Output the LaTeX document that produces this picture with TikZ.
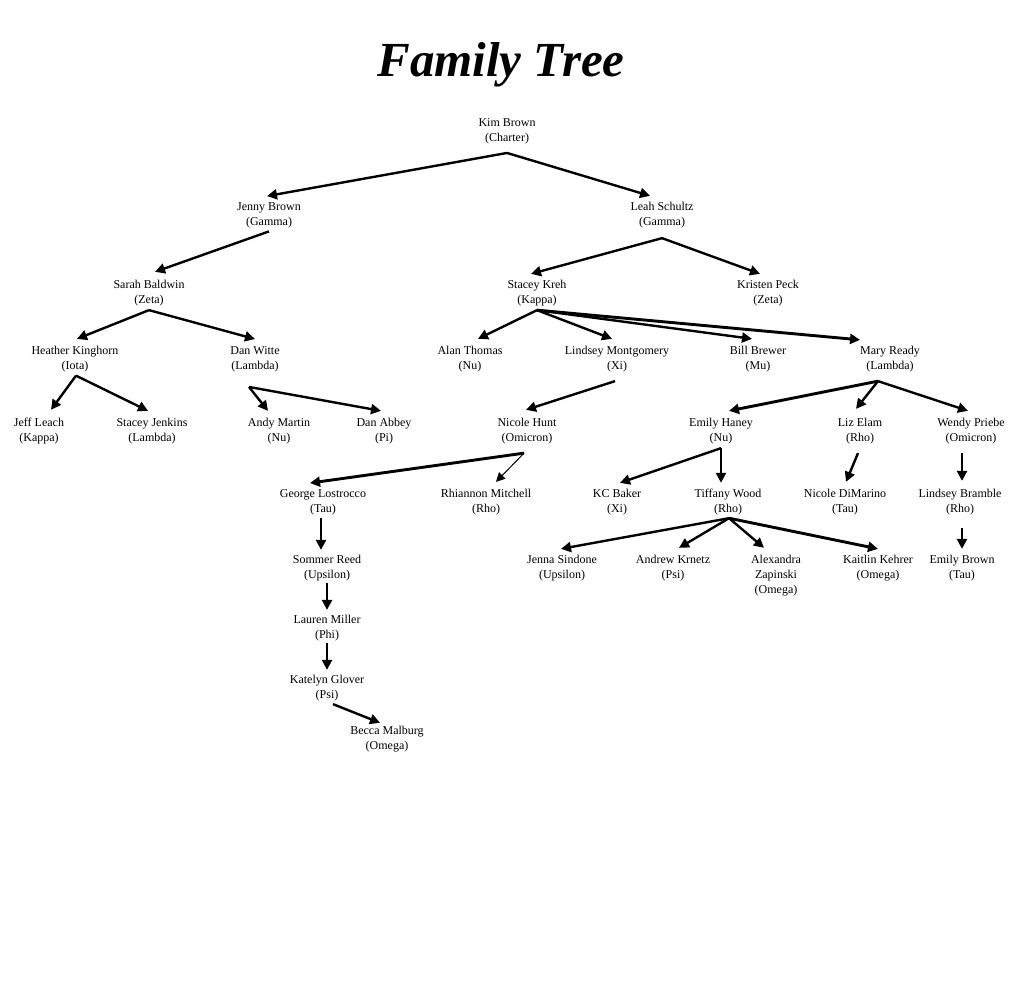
\documentclass[tikz,border=0pt]{standalone}
\usepackage{fontspec}
\setmainfont{Liberation Serif}
\usetikzlibrary{arrows.meta}
\begin{document}
\begin{tikzpicture}[x=1pt,y=-1pt,
  person/.style={align=center, inner xsep=0pt, inner ysep=3pt, font=\fontsize{12}{15}\selectfont},
  arr/.style={-{Triangle[length=10pt,width=10pt]}, line width=2.4pt},
  thickarr/.style={arr, line width=2.9pt},
  thinarr/.style={-{Triangle[length=9pt,width=9pt]}, line width=1pt}]
\useasboundingbox[fill=white] (0,0) rectangle (1025,995);
\node[anchor=base, font=\fontsize{49}{55}\selectfont\bfseries\itshape] (title) at (501,77) {Family Tree};
% generation 0
\node[person] (kim) at (507,131.5) {Kim Brown\\(Charter)};
% generation 1
\node[person] (jenny) at (269,215.5) {Jenny Brown\\(Gamma)};
\node[person] (leah) at (662,215.5) {Leah Schultz\\(Gamma)};
% generation 2
\node[person] (sarah) at (149,293.5) {Sarah Baldwin\\(Zeta)};
\node[person] (stacey) at (537,293.5) {Stacey Kreh\\(Kappa)};
\node[person] (kristen) at (768,293.5) {Kristen Peck\\(Zeta)};
% generation 3
\node[person] (heather) at (75,359.5) {Heather Kinghorn\\(Iota)};
\node[person] (danw) at (255,359.5) {Dan Witte\\(Lambda)};
\node[person] (alan) at (470,359.5) {Alan Thomas\\(Nu)};
\node[person] (lindseym) at (617,359.5) {Lindsey Montgomery\\(Xi)};
\node[person] (bill) at (758,359.5) {Bill Brewer\\(Mu)};
\node[person] (mary) at (890,359.5) {Mary Ready\\(Lambda)};
% generation 4
\node[person] (jeff) at (39,431.5) {Jeff Leach\\(Kappa)};
\node[person] (staceyj) at (152,431.5) {Stacey Jenkins\\(Lambda)};
\node[person] (andy) at (279,431.5) {Andy Martin\\(Nu)};
\node[person] (dana) at (384,431.5) {Dan Abbey\\(Pi)};
\node[person] (nicoleh) at (527,431.5) {Nicole Hunt\\(Omicron)};
\node[person] (emilyh) at (721,431.5) {Emily Haney\\(Nu)};
\node[person] (liz) at (860,431.5) {Liz Elam\\(Rho)};
\node[person] (wendy) at (971,431.5) {Wendy Priebe\\(Omicron)};
% generation 5
\node[person] (george) at (323,502.5) {George Lostrocco\\(Tau)};
\node[person] (rhiannon) at (486,502.5) {Rhiannon Mitchell\\(Rho)};
\node[person] (kc) at (617,502.5) {KC Baker\\(Xi)};
\node[person] (tiffany) at (728,502.5) {Tiffany Wood\\(Rho)};
\node[person] (nicoled) at (845,502.5) {Nicole DiMarino\\(Tau)};
\node[person] (lindseyb) at (960,502.5) {Lindsey Bramble\\(Rho)};
% generation 6
\node[person] (sommer) at (327,568.5) {Sommer Reed\\(Upsilon)};
\node[person] (jenna) at (562,568.5) {Jenna Sindone\\(Upsilon)};
\node[person] (andrew) at (673,568.5) {Andrew Krnetz\\(Psi)};
\node[person] (alexandra) at (776,576) {Alexandra\\Zapinski\\(Omega)};
\node[person] (kaitlin) at (878,568.5) {Kaitlin Kehrer\\(Omega)};
\node[person] (emilyb) at (962,568.5) {Emily Brown\\(Tau)};
% further
\node[person] (lauren) at (327,628.5) {Lauren Miller\\(Phi)};
\node[person] (katelyn) at (327,688.5) {Katelyn Glover\\(Psi)};
\node[person] (becca) at (387,739.5) {Becca Malburg\\(Omega)};

% fan-out points
\coordinate (kim-o) at ([yshift=-5.5]kim.south);
\coordinate (jenny-o) at (jenny.south);
\coordinate (leah-o) at ([yshift=-6.5]leah.south);
\coordinate (sarah-o) at ([yshift=-0.5]sarah.south);
\coordinate (stacey-o) at ([yshift=-0.5]stacey.south);
\coordinate (heather-o) at ([xshift=1]heather.south);
\coordinate (danw-o) at ([xshift=-6,yshift=-11.5]danw.south);
\coordinate (lindseym-o) at ([xshift=-2,yshift=-5.5]lindseym.south);
\coordinate (mary-o) at ([xshift=-12,yshift=-5.5]mary.south);
\coordinate (nicoleh-o) at ([xshift=-3,yshift=-5.5]nicoleh.south);
\coordinate (emilyh-o) at ([yshift=-0.5]emilyh.south);
\coordinate (liz-o) at ([xshift=-2,yshift=-5.5]liz.south);
\coordinate (wendy-o) at ([xshift=-9,yshift=-5.5]wendy.south);
\coordinate (tiffany-o) at ([xshift=1,yshift=0.5]tiffany.south);
\coordinate (george-o) at ([xshift=-2,yshift=0.5]george.south);
\coordinate (lindseyb-o) at ([xshift=2,yshift=-9.5]lindseyb.south);
\coordinate (sommer-o) at ([yshift=1.5]sommer.south);
\coordinate (lauren-o) at ([yshift=1.5]lauren.south);
\coordinate (katelyn-o) at ([xshift=6,yshift=0.5]katelyn.south);

% connectors
\draw[arr] (kim-o) -- ([xshift=-2,yshift=3.5]jenny.north);
\draw[arr] (kim-o) -- ([xshift=-12,yshift=3.5]leah.north);
\draw[arr] (jenny-o) -- ([xshift=6,yshift=5.5]sarah.north);
\draw[arr] (leah-o) -- ([xshift=-6,yshift=3.5]stacey.north);
\draw[arr] (leah-o) -- ([xshift=-8,yshift=3.5]kristen.north);
\draw[arr] (sarah-o) -- ([xshift=2,yshift=4.5]heather.north);
\draw[arr] (sarah-o) -- ([yshift=4.5]danw.north);
\draw[arr] (stacey-o) -- ([xshift=8,yshift=4.5]alan.north);
\draw[arr] (stacey-o) -- ([xshift=-5,yshift=4.5]lindseym.north);
\draw[arr] (stacey-o) -- ([xshift=-6,yshift=4.5]bill.north);
\draw[thickarr] (stacey-o) -- ([xshift=-30,yshift=3.5]mary.north);
\draw[arr] (heather-o) -- ([xshift=12,yshift=5.5]jeff.north);
\draw[arr] (heather-o) -- ([xshift=-4,yshift=4.5]staceyj.north);
\draw[arr] (danw-o) -- ([xshift=-11,yshift=4.5]andy.north);
\draw[arr] (danw-o) -- ([xshift=-3,yshift=4.5]dana.north);
\draw[arr] (lindseym-o) -- ([xshift=-1,yshift=5.5]nicoleh.north);
\draw[thickarr] (mary-o) -- ([xshift=8,yshift=4.5]emilyh.north);
\draw[arr] (mary-o) -- ([xshift=-4,yshift=6.5]liz.north);
\draw[arr] (mary-o) -- ([xshift=-3,yshift=4.5]wendy.north);
\draw[thickarr] (nicoleh-o) -- ([xshift=-13,yshift=3.5]george.north);
\draw[thinarr] (nicoleh-o) -- ([xshift=10,yshift=4.5]rhiannon.north);
\draw[arr] (emilyh-o) -- ([xshift=3,yshift=3.5]kc.north);
\draw[arr] (emilyh-o) -- ([xshift=-7,yshift=3.5]tiffany.north);
\draw[arr] (liz-o) -- ([xshift=1,yshift=4.5]nicoled.north);
\draw[arr] (wendy-o) -- ([xshift=2,yshift=5.5]lindseyb.north);
\draw[arr] (lindseyb-o) -- ([yshift=3.5]emilyb.north);
\draw[arr] (tiffany-o) -- ([xshift=-1,yshift=3.5]jenna.north);
\draw[arr] (tiffany-o) -- ([xshift=6,yshift=4.5]andrew.north);
\draw[arr] (tiffany-o) -- ([xshift=-12,yshift=4.5]alexandra.north);
\draw[thickarr] (tiffany-o) -- ([yshift=3.5]kaitlin.north);
\draw[arr] (george-o) -- ([xshift=-6,yshift=2.5]sommer.north);
\draw[arr] (sommer-o) -- ([yshift=2.5]lauren.north);
\draw[arr] (lauren-o) -- ([yshift=2.5]katelyn.north);
\draw[arr] (katelyn-o) -- ([xshift=-7,yshift=0.5]becca.north);
\end{tikzpicture}
\end{document}
